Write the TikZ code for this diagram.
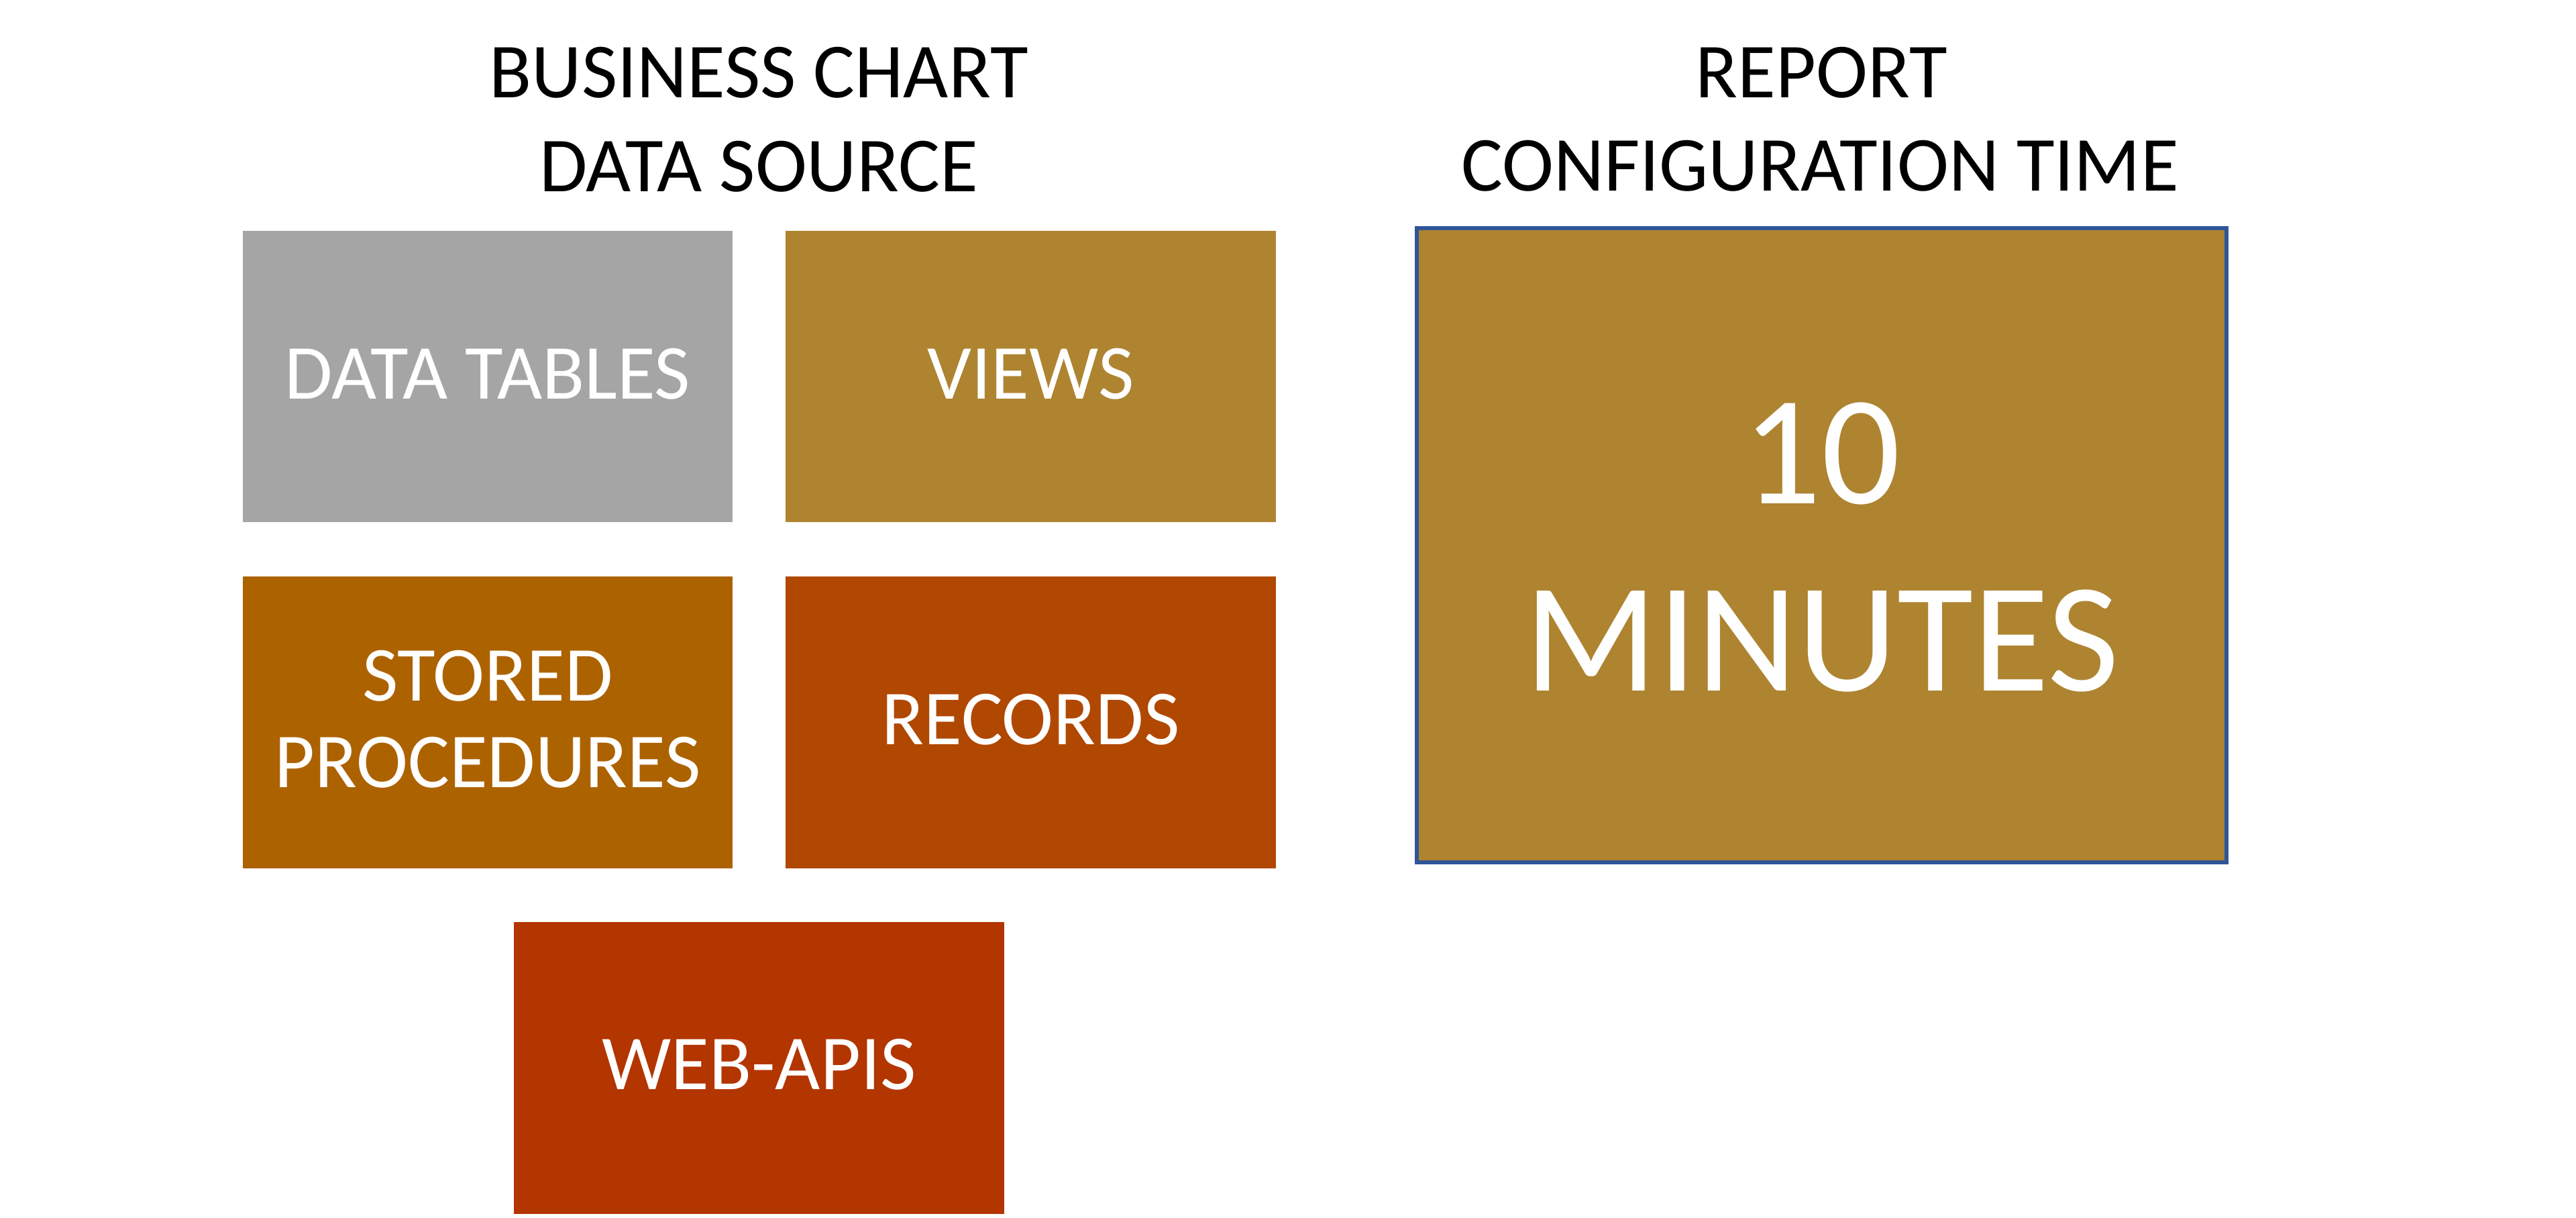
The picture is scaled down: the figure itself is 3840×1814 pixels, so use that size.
\documentclass[tikz,border=0pt]{standalone}
\usepackage{fontspec}
\setmainfont{Carlito}
\definecolor{cgray}{HTML}{A5A5A5}
\definecolor{cgold}{HTML}{AE8431}
\definecolor{corange}{HTML}{AD6200}
\definecolor{crust}{HTML}{B04802}
\definecolor{cred}{HTML}{B33500}
\definecolor{cblue}{HTML}{2F5597}
\begin{document}
\begin{tikzpicture}[x=0.01cm,y=-0.01cm,
  tile/.style={draw=none,inner sep=0pt,outer sep=0pt,minimum width=7.30cm,minimum height=4.34cm},
  lbl/.style={inner sep=0pt,anchor=base,font=\fontsize{33}{40}\selectfont},
  wlbl/.style={lbl,text=white},
  biglbl/.style={inner sep=0pt,anchor=base,text=white,font=\fontsize{66}{80}\selectfont}]
\useasboundingbox[fill=white] (0,0) rectangle (3840,1814);
% titles
\node[lbl] (t1a) at (1131,145) {BUSINESS CHART};
\node[lbl] (t1b) at (1131,285) {DATA SOURCE};
\node[lbl] (t2a) at (2715,145) {REPORT};
\node[lbl] (t2b) at (2713,284) {CONFIGURATION TIME};
% tiles
\node[tile,fill=cgray] (dt) at (727,561) {};
\node[tile,fill=cgold] (vw) at (1536.5,561) {};
\node[tile,fill=corange,minimum height=4.35cm] (sp) at (727,1076.5) {};
\node[tile,fill=crust,minimum height=4.35cm] (rc) at (1536.5,1076.5) {};
\node[tile,fill=cred,minimum height=4.35cm] (wa) at (1131.5,1591.5) {};
\node[wlbl] (dtl) at (727,594) {DATA TABLES};
\node[wlbl] (vwl) at (1536.5,594) {VIEWS};
\node[wlbl] (spl1) at (727,1044) {STORED};
\node[wlbl] (spl2) at (727,1173) {PROCEDURES};
\node[wlbl] (rcl) at (1536.5,1109) {RECORDS};
\node[wlbl] (wal) at (1131.5,1623) {WEB-APIS};
% big box
\node[draw=cblue,line width=0.06cm,fill=cgold,inner sep=0pt,outer sep=0pt,minimum width=12.07cm,minimum height=9.45cm] (bb) at (2715.5,812.5) {};
\node[biglbl] (bb1) at (2715,750) {10};
\node[biglbl] (bb2) at (2716,1029) {MINUTES};
\end{tikzpicture}
\end{document}
